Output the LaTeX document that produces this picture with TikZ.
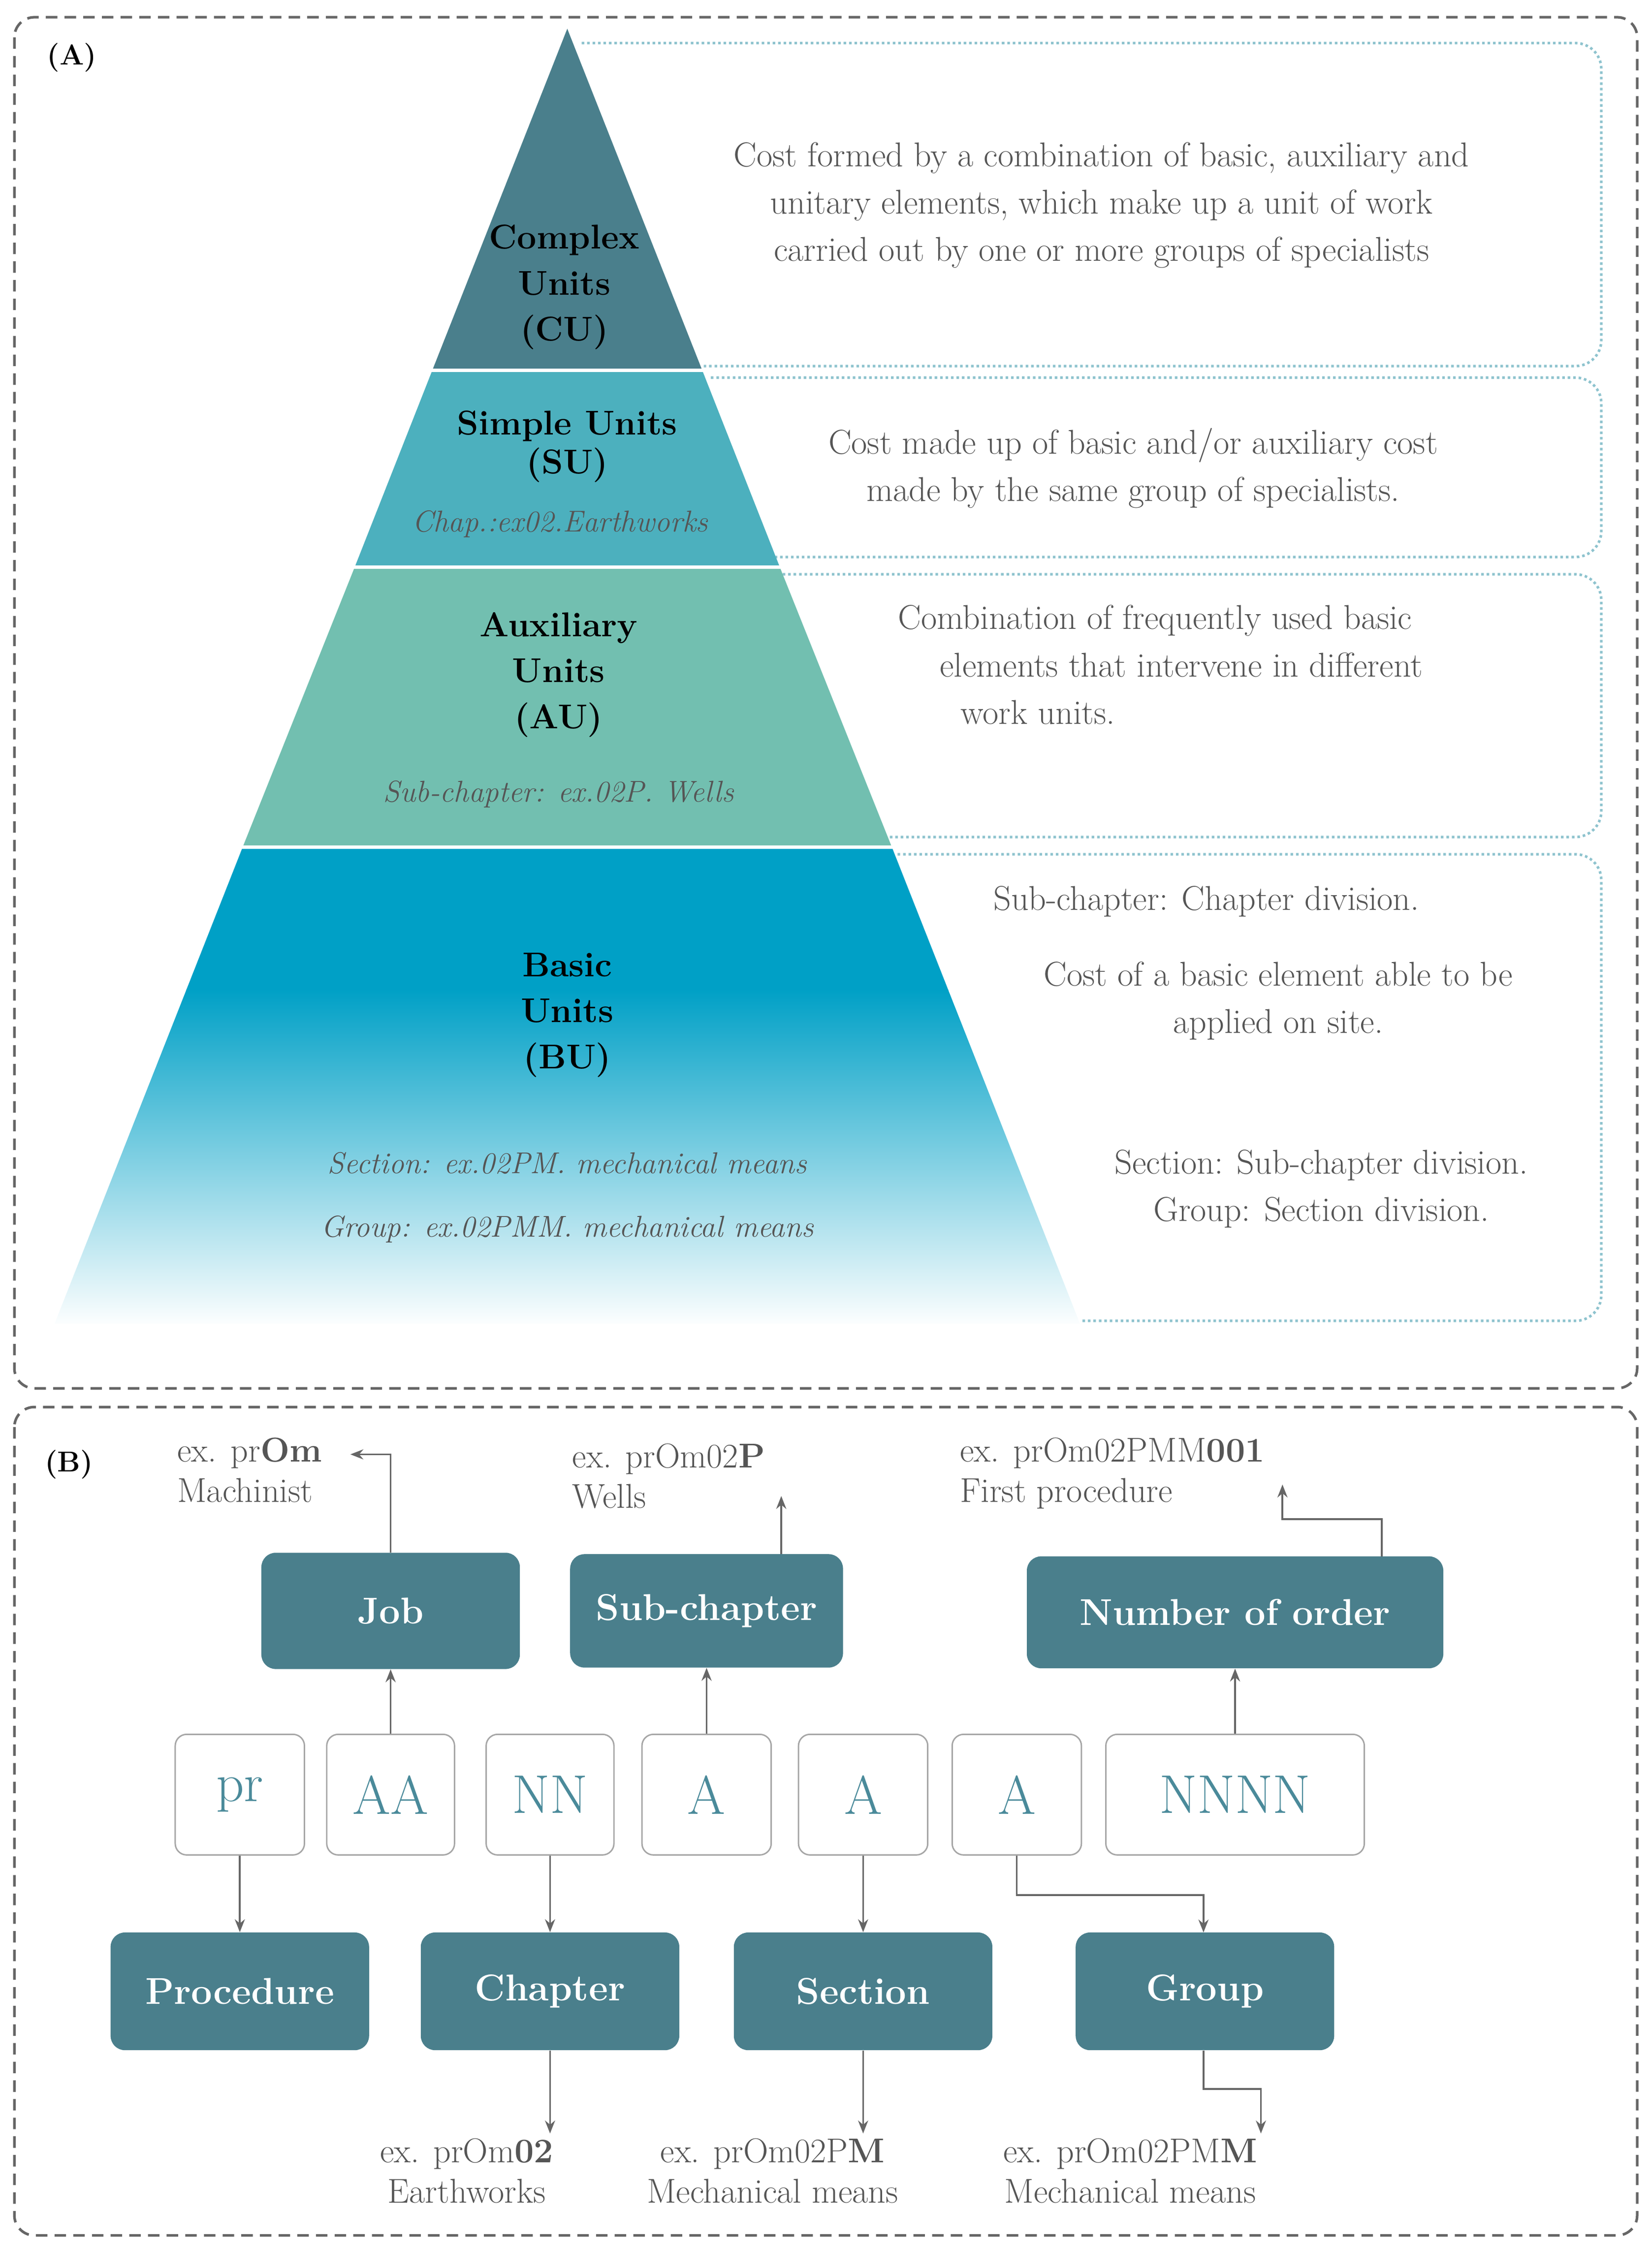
\documentclass[tikz,border=0pt]{standalone}
\usetikzlibrary{arrows.meta}
\definecolor{cu}{HTML}{4A7F8C}
\definecolor{su}{HTML}{4CB0BE}
\definecolor{au}{HTML}{72BFB0}
\definecolor{bu}{HTML}{00A0C6}
\definecolor{dot}{HTML}{8EC3CE}
\definecolor{tbox}{HTML}{4A7F8C}
\definecolor{gtx}{HTML}{555555}
\definecolor{code}{HTML}{4A8A9A}
\begin{document}
\begin{tikzpicture}[x=1pt,y=-1pt,
 outer/.style={draw=gray!80!black,dashed,line width=1.8pt,rounded corners=14pt,dash pattern=on 8pt off 5pt},
 dotb/.style={draw=dot,line width=1.8pt,dotted,rounded corners=18pt},
 ptxt/.style={font=\fontsize{24}{32}\selectfont\bfseries,align=center},
 itxt/.style={font=\fontsize{21}{28}\selectfont\itshape,text=gtx},
 rtxt/.style={font=\fontsize{24}{33}\selectfont,text=gtx,align=center},
 tb/.style={fill=tbox,rounded corners=10pt,text=white,font=\fontsize{26}{30}\selectfont\bfseries},
 cb/.style={draw=gray!70,line width=1pt,rounded corners=8pt,fill=white,text=code,font=\fontsize{38}{40}\selectfont},
 lbl/.style={font=\fontsize{24}{28}\selectfont,text=gtx,align=left},
 arr/.style={draw=gtx!90,line width=1.3pt,-{Stealth[length=9pt,width=7pt]}}]
\useasboundingbox (0,0) rectangle (1150,1563);
% frames
\draw[outer] (10,12) rectangle (1140,967);
\draw[outer] (10,980) rectangle (1140,1557);
% dotted boxes
\draw[dotb] (405,30) -- (1115,30) -- (1115,255) -- (490,255);
\draw[dotb] (495,263) -- (1115,263) -- (1115,388) -- (540,388);
\draw[dotb] (545,400) -- (1115,400) -- (1115,583) -- (618,583);
\draw[dotb] (625,595) -- (1115,595) -- (1115,920) -- (752,920);
% pyramid
\fill[cu] (395,20) -- (489,258) -- (301,258) -- cycle;
\fill[su] (301,258) -- (489,258) -- (543,395) -- (247,395) -- cycle;
\fill[au] (247,395) -- (543,395) -- (621,590) -- (169,590) -- cycle;
\begin{scope}
\clip (169,590) -- (621,590) -- (752,922) -- (38,922) -- cycle;
\fill[bu] (30,590) rectangle (760,690);
\shade[top color=bu,bottom color=white] (30,689) rectangle (760,925);
\end{scope}
\draw[white,line width=2.5pt] (290,258) -- (500,258) (236,395) -- (554,395) (160,590) -- (630,590);
\node[font=\fontsize{20}{24}\selectfont\bfseries] at (50,40) {(A)};
\node[font=\fontsize{20}{24}\selectfont\bfseries] at (48,1020) {(B)};
\node[ptxt] (cu) at (393,200) {Complex\\Units\\(CU)};
\node[ptxt,font=\fontsize{24}{27}\selectfont\bfseries] (su) at (395,311) {Simple Units\\(SU)};
\node[itxt] at (390,365) {Chap.:ex02.Earthworks};
\node[ptxt] (au) at (389,470) {Auxiliary\\Units\\(AU)};
\node[itxt] at (389,553) {Sub-chapter: ex.02P. Wells};
\node[ptxt] (bu) at (395,707) {Basic\\Units\\(BU)};
\node[itxt] at (395,810) {Section: ex.02PM. mechanical means};
\node[itxt] at (395,856) {Group: ex.02PMM. mechanical means};
\node[rtxt] at (767,143) {Cost formed by a combination of basic, auxiliary and\\unitary elements, which make up a unit of work\\carried out by one or more groups of specialists};
\node[rtxt] at (789,326) {Cost made up of basic and/or auxiliary cost\\made by the same group of specialists.};
\node[rtxt,align=left] at (808,463) {Combination of frequently used basic\\\ \ \ \ elements that intervene in different\\\ \ \ \ \ \ work units.};
\node[rtxt] at (840,628) {Sub-chapter: Chapter division.};
\node[rtxt] at (890,697) {Cost of a basic element able to be\\applied on site.};
\node[rtxt] at (920,828) {Section: Sub-chapter division.\\Group: Section division.};
% part B
\node[tb,minimum width=180pt,minimum height=81pt] (job) at (272,1122) {Job};
\node[tb,minimum width=190pt,minimum height=79pt] (sub) at (492,1122) {Sub-chapter};
\node[tb,minimum width=290pt,minimum height=78pt] (num) at (860,1123) {Number of order};
\node[cb,minimum width=90pt,minimum height=84pt] (c1) at (167,1250) {pr};
\node[cb,minimum width=89pt,minimum height=84pt] (c2) at (272,1250) {AA};
\node[cb,minimum width=89pt,minimum height=84pt] (c3) at (383,1250) {NN};
\node[cb,minimum width=90pt,minimum height=84pt] (c4) at (492,1250) {A};
\node[cb,minimum width=90pt,minimum height=84pt] (c5) at (601,1250) {A};
\node[cb,minimum width=90pt,minimum height=84pt] (c6) at (708,1250) {A};
\node[cb,minimum width=180pt,minimum height=84pt] (c7) at (860,1250) {NNNN};
\node[tb,minimum width=180pt,minimum height=82pt] (proc) at (167,1387) {Procedure};
\node[tb,minimum width=180pt,minimum height=82pt] (chap) at (383,1387) {Chapter};
\node[tb,minimum width=180pt,minimum height=82pt] (sec) at (601,1387) {Section};
\node[tb,minimum width=180pt,minimum height=82pt] (grp) at (839,1387) {Group};
\node[lbl,anchor=north west] (l1) at (120,998) {ex. pr\textbf{Om}\\Machinist};
\node[lbl,anchor=north west] (l2) at (395,1002) {ex. prOm02\textbf{P}\\Wells};
\node[lbl,anchor=north west] (l3) at (665,998) {ex. prOm02PMM\textbf{001}\\First procedure};
\node[lbl,align=center,anchor=north] (l4) at (325,1486) {ex. prOm\textbf{02}\\Earthworks};
\node[lbl,align=center,anchor=north] (l5) at (538,1486) {ex. prOm02P\textbf{M}\\Mechanical means};
\node[lbl,align=center,anchor=north] (l6) at (787,1486) {ex. prOm02PM\textbf{M}\\Mechanical means};
\coordinate (e1) at (244,1013);
\coordinate (e2) at (544,1042);
\coordinate (e3) at (893,1034);
\coordinate (e4) at (383,1486);
\coordinate (e5) at (601,1486);
\coordinate (e6) at (878,1486);
\draw[arr] (c2.north) -- (job.south);
\draw[arr] (job.north) |- (e1);
\draw[arr] (c4.north) -- (sub.south);
\draw[arr] (sub.north -| e2) -- (e2);
\draw[arr] (c7.north) -- (num.south);
\draw[arr] (962,1084) -- (962,1058) -- (893,1058) -- (e3);
\draw[arr] (c1.south) -- (proc.north);
\draw[arr] (c3.south) -- (chap.north);
\draw[arr] (c5.south) -- (sec.north);
\draw[arr] (c6.south) -- (708,1320) -- (838,1320) -- (838,1346);
\draw[arr] (chap.south) -- (e4);
\draw[arr] (sec.south) -- (e5);
\draw[arr] (grp.south -| 838,0) -- (838,1455) -- (878,1455) -- (e6);
\end{tikzpicture}
\end{document}
